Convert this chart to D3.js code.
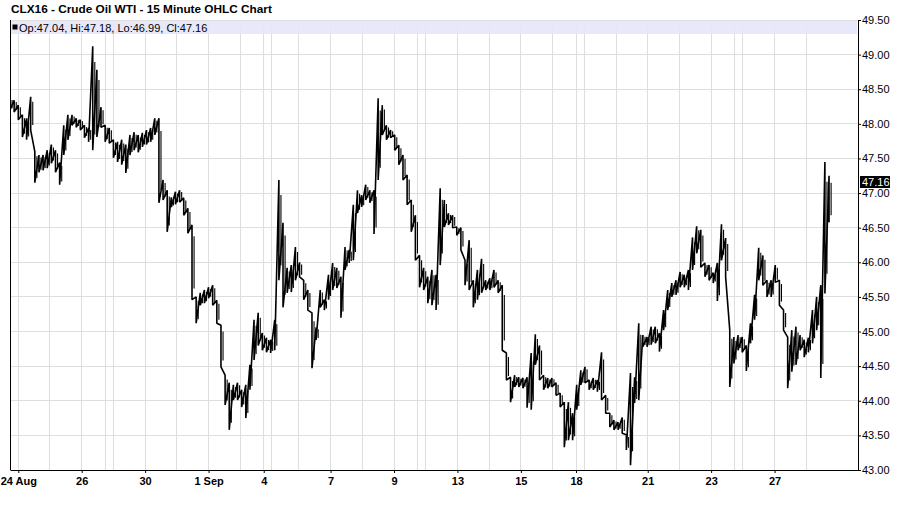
<!DOCTYPE html>
<html>
<head>
<meta charset="utf-8">
<script src="https://cdn.jsdelivr.net/npm/d3@7"></script>
<style>
	body { margin: 0; background: #fff; }
	svg text { font-family: "Liberation Sans", Arial, sans-serif; }
</style>
</head>
<body>
<div id="chart"></div>
<script>

// Chart texts and the last 15 minute bar.
const title = "CLX16 - Crude Oil WTI - 15 Minute OHLC Chart";
const lastOpen = 47.04, lastHigh = 47.18, lastLow = 46.99, lastClose = 47.16;

// Trading hours between consecutive day grid lines (first one is the 23 Aug evening session).
const dayHours = [6, 23, 23, 17, 6, 23, 23, 23, 23, 17, 6, 19.5, 23, 23, 23, 17, 6, 23, 23, 23, 23, 17, 6, 23, 23, 23, 23, 17, 6, 23, 23];
// Label under each day grid line, empty where the chart shows none.
const dayLabels = ["24 Aug", "", "26", "", "", "30", "", "1 Sep", "", "4", "", "", "7", "", "9", "", "", "13", "", "15", "", "18", "", "", "21", "", "23", "", "", "27", ""];

// Price axis.
const priceTicks = [43, 43.5, 44, 44.5, 45, 45.5, 46, 46.5, 47, 47.5, 48, 48.5, 49, 49.5];

// Price range of every 3 trading hours.
const barHours = 3;
const highs = [
	48.37, 48.34, 48.27, 48.13, 48.08, 48.39, 47.60, 47.55, 47.55, 47.62,
	47.70, 47.62, 47.44, 47.98, 48.13, 48.13, 48.08, 48.06, 47.98, 47.94,
	49.12, 48.78, 48.24, 47.98, 47.94, 47.77, 47.74, 47.77, 47.70, 47.84,
	47.88, 47.84, 47.87, 47.91, 47.94, 48.08, 48.08, 47.19, 47.04, 46.94,
	47.02, 47.04, 46.93, 46.78, 46.54, 45.50, 45.56, 45.60, 45.64, 45.67,
	45.45, 45.09, 44.37, 44.26, 44.23, 44.26, 44.16, 44.23, 44.52, 45.17,
	45.27, 44.98, 44.91, 44.88, 45.17, 47.19, 46.57, 45.92, 45.96, 46.22,
	46.00, 45.74, 45.60, 45.27, 45.06, 45.60, 45.46, 45.82, 45.99, 45.92,
	45.79, 46.22, 46.18, 46.83, 47.04, 46.97, 47.12, 47.04, 47.04, 48.37,
	48.27, 47.98, 47.91, 47.84, 47.69, 47.55, 47.26, 46.90, 46.68, 46.10,
	45.92, 45.79, 45.89, 45.82, 47.07, 46.90, 46.71, 46.68, 46.51, 46.50,
	46.03, 46.32, 45.74, 45.89, 46.05, 45.74, 45.77, 45.89, 45.74, 45.67,
	44.69, 44.34, 44.37, 44.34, 44.33, 44.34, 44.69, 44.96, 44.80, 44.37,
	44.33, 44.33, 44.26, 44.11, 43.98, 43.98, 43.82, 44.23, 44.44, 44.49,
	44.30, 44.33, 44.30, 44.70, 44.08, 43.82, 43.72, 43.69, 43.76, 43.51,
	44.40, 44.34, 45.12, 44.95, 44.92, 45.07, 45.07, 44.98, 45.31, 45.60,
	45.70, 45.74, 45.86, 45.82, 45.89, 46.36, 46.52, 46.47, 45.99, 45.96,
	45.85, 45.99, 46.55, 46.35, 45.02, 44.92, 44.95, 44.92, 44.80, 45.12,
	45.53, 46.21, 46.10, 45.74, 45.74, 45.96, 45.74, 45.31, 44.92, 45.02,
	45.07, 44.95, 44.88, 44.91, 45.31, 45.50, 45.67, 47.45, 47.25
];
const lows = [
	48.20, 48.17, 48.06, 47.81, 47.77, 47.91, 47.15, 47.30, 47.33, 47.36,
	47.43, 47.30, 47.12, 47.55, 47.77, 47.98, 47.95, 47.91, 47.80, 47.74,
	47.62, 47.81, 47.95, 47.74, 47.72, 47.51, 47.45, 47.41, 47.29, 47.55,
	47.62, 47.59, 47.67, 47.70, 47.74, 47.84, 46.86, 46.90, 46.44, 46.80,
	46.84, 46.87, 46.68, 46.42, 45.46, 45.12, 45.38, 45.41, 45.48, 45.38,
	45.12, 44.49, 43.94, 43.58, 44.01, 44.01, 43.91, 43.75, 44.16, 44.59,
	44.80, 44.73, 44.70, 44.69, 44.73, 45.74, 45.35, 45.56, 45.57, 45.74,
	45.79, 45.46, 45.31, 44.47, 44.88, 45.35, 45.31, 45.46, 45.60, 45.63,
	45.20, 45.89, 45.99, 46.03, 46.71, 46.80, 46.90, 46.86, 46.41, 47.19,
	47.84, 47.77, 47.80, 47.62, 47.41, 47.19, 46.83, 46.44, 46.03, 45.64,
	45.60, 45.41, 45.38, 45.31, 45.96, 46.51, 46.54, 46.50, 46.39, 46.18,
	45.67, 45.60, 45.35, 45.46, 45.56, 45.60, 45.60, 45.64, 45.56, 44.73,
	44.30, 43.98, 44.20, 44.20, 44.18, 43.90, 43.87, 44.52, 44.30, 44.16,
	44.18, 44.20, 44.08, 43.91, 43.33, 43.43, 43.43, 43.87, 44.23, 44.26,
	44.16, 44.16, 44.13, 44.01, 43.82, 43.62, 43.58, 43.58, 43.53, 43.29,
	43.07, 43.97, 44.01, 44.78, 44.78, 44.81, 44.83, 44.71, 45.02, 45.31,
	45.50, 45.53, 45.64, 45.64, 45.60, 45.89, 46.13, 45.93, 45.79, 45.74,
	45.70, 45.44, 46.03, 45.79, 44.20, 44.54, 44.73, 44.70, 44.43, 44.83,
	45.17, 45.74, 45.67, 45.50, 45.50, 45.71, 45.38, 45.02, 44.18, 44.42,
	44.52, 44.73, 44.63, 44.70, 44.83, 45.02, 44.33, 45.55, 46.58
];


// Plot frame.
const width = 900, height = 511;
const plotLeft = 10, plotRight = 858, plotTop = 20, plotBottom = 470;

const svg = d3.select("#chart")
  .append("svg")
	.attr("width", width)
	.attr("height", height);

const x = d3.scaleLinear().domain([0, 615]).range([plotLeft, plotRight]);
const y = d3.scaleLinear().domain([43, 49.5]).range([plotBottom, plotTop]);

// Day grid lines sit at the cumulative trading hours.
const dayStarts = d3.cumsum(dayHours);
const days = Array.from(dayStarts, (h, i) => ({h: h, label: dayLabels[i]}));

const bars = highs.map((hi, i) => ({h: i * barHours, hi: hi, lo: lows[i]}));


// Grid.
const grid = svg.append("g").attr("class", "grid")
	.attr("stroke", "#dedede")
	.attr("shape-rendering", "crispEdges");

grid.selectAll("line.h")
  .data(priceTicks.slice(1))
  .enter()
  .append("line")
	.attr("class", "h")
	.attr("x1", plotLeft).attr("x2", plotRight)
	.attr("y1", d => y(d)).attr("y2", d => y(d));

grid.selectAll("line.v")
  .data(days)
  .enter()
  .append("line")
	.attr("class", "v")
	.attr("x1", d => x(d.h)).attr("x2", d => x(d.h))
	.attr("y1", plotTop).attr("y2", plotBottom);


// Price series, clipped to the plot.
svg.append("clipPath").attr("id", "plotclip")
  .append("rect")
	.attr("x", plotLeft).attr("y", plotTop)
	.attr("width", plotRight - plotLeft).attr("height", plotBottom - plotTop);

const series = svg.append("g").attr("clip-path", "url(#plotclip)");

// Each bar is a vertical high-low stroke, joined to the next bar's high: a dense jagged trace.
const trace = d3.line()
	.x(d => x(d[0]))
	.y(d => y(d[1]));

series.append("path")
	.datum(bars.flatMap(b => [[b.h, b.hi], [b.h, b.lo]]))
	.attr("d", trace)
	.attr("fill", "none")
	.attr("stroke", "#000")
	.attr("stroke-width", 1.6)
	.attr("stroke-linejoin", "bevel");

// Half-way strokes over the body of each range fill the trace a little.
series.selectAll("line")
  .data(bars)
  .enter()
  .append("line")
	.attr("x1", d => x(d.h + barHours / 2)).attr("x2", d => x(d.h + barHours / 2))
	.attr("y1", d => y((d.hi + d.lo) / 2 + (d.hi - d.lo) * 0.35))
	.attr("y2", d => y((d.hi + d.lo) / 2 - (d.hi - d.lo) * 0.35))
	.attr("stroke", "#000")
	.attr("stroke-width", 1.1);


// Legend band with the last bar.
const legend = svg.append("g");
legend.append("rect")
	.attr("x", plotLeft).attr("y", 21)
	.attr("width", plotRight - plotLeft - 1).attr("height", 13)
	.attr("fill", "#e6e6fa")
	.attr("fill-opacity", 0.9);
legend.append("rect")
	.attr("x", 12.5).attr("y", 24.5)
	.attr("width", 5).attr("height", 5)
	.attr("fill", "#000");
legend.append("text")
	.attr("x", 19).attr("y", 31.5)
	.attr("font-size", 11)
	.attr("fill", "#000")
	.text(`Op:${lastOpen.toFixed(2)}, Hi:${lastHigh.toFixed(2)}, Lo:${lastLow.toFixed(2)}, Cl:${lastClose.toFixed(2)}`);


// Axes.
const yaxis = svg.append("g")
	.attr("transform", `translate(${plotRight},0)`)
	.call(d3.axisRight(y)
		.tickValues(priceTicks)
		.tickFormat(d3.format(".2f"))
		.tickSizeInner(3)
		.tickSizeOuter(0)
		.tickPadding(1));
yaxis.select(".domain").attr("stroke", "#000");
yaxis.selectAll("text")
	.attr("font-size", 11)
	.attr("font-family", "\"Liberation Sans\", Arial, sans-serif")
	.attr("fill", "#000");

const labelled = days.filter(d => d.label != "");
const xaxis = svg.append("g")
	.attr("transform", `translate(0,${plotBottom})`)
	.call(d3.axisBottom(x)
		.tickValues(labelled.map(d => d.h))
		.tickFormat((h, i) => labelled[i].label)
		.tickSizeInner(3)
		.tickSizeOuter(0)
		.tickPadding(4));
xaxis.select(".domain").attr("stroke", "#000");
xaxis.selectAll("text")
	.attr("font-size", 11)
	.attr("font-weight", "bold")
	.attr("font-family", "\"Liberation Sans\", Arial, sans-serif")
	.attr("fill", "#000");

// Left frame line.
svg.append("line")
	.attr("x1", plotLeft + 0.5).attr("x2", plotLeft + 0.5)
	.attr("y1", plotTop).attr("y2", plotBottom)
	.attr("stroke", "#000");


// Last price marker on the price axis.
const marker = svg.append("g")
	.attr("transform", `translate(${plotRight + 2},${y(lastClose)})`);
marker.append("rect")
	.attr("x", 0).attr("y", -6)
	.attr("width", 30).attr("height", 12)
	.attr("fill", "#000");
marker.append("text")
	.attr("x", 2).attr("y", 4)
	.attr("font-size", 11)
	.attr("fill", "#fff")
	.text(lastClose.toFixed(2));


// Title.
svg.append("text")
	.attr("x", 11).attr("y", 13)
	.attr("font-size", 11.8)
	.attr("font-weight", "bold")
	.attr("fill", "#000")
	.text(title);

</script>
</body>
</html>
